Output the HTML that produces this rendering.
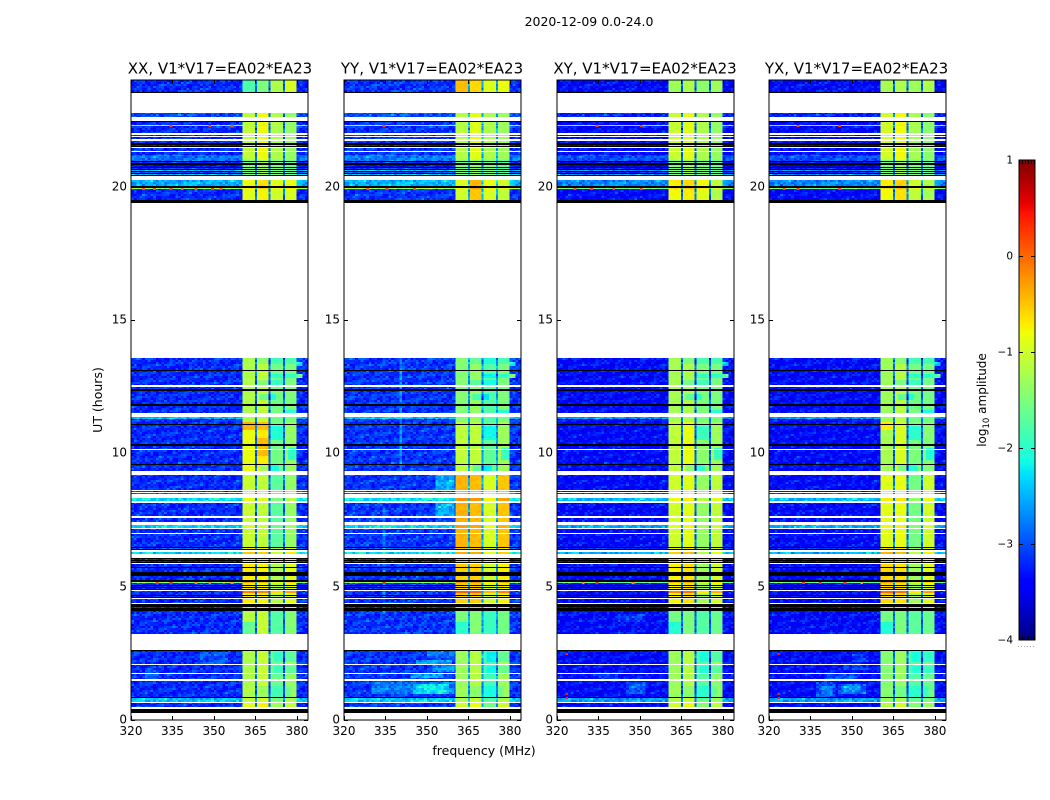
<!DOCTYPE html>
<html>
<head>
<meta charset="utf-8">
<title>2020-12-09 0.0-24.0</title>
<style>
html,body{margin:0;padding:0;background:#fff;}
svg{display:block;font-family:"DejaVu Sans","Liberation Sans",sans-serif;fill:#000;}
</style>
</head>
<body>
<svg id="figure" xmlns="http://www.w3.org/2000/svg" width="1050" height="800" viewBox="0 0 1050 800">
  <text x="589" y="26" text-anchor="middle" font-size="12.5">2020-12-09 0.0-24.0</text>
  <text transform="translate(102,400) rotate(-90)" text-anchor="middle" font-size="12.5">UT (hours)</text>
  <text x="484" y="755" text-anchor="middle" font-size="12.5">frequency (MHz)</text>
  <text transform="translate(986,400) rotate(-90)" text-anchor="middle" font-size="12">log<tspan font-size="8.5" dy="3">10</tspan><tspan dy="-3"> amplitude</tspan></text>
</svg>
<script>
// ---------- axis labels ----------
const panelNames = ["XX", "YY", "XY", "YX"];
const freqTicks = [320, 335, 350, 365, 380];
const utTicks = [0, 5, 10, 15, 20];
const colorTicks = [1, 0, -1, -2, -3, -4];

// ---------- frequency channels (MHz) ----------
const channelEdges = [320,321,322,323,324,325,326,327,328,329,330,331,332,333,334,335,336,337,338,339,340,341,342,343,344,345,346,347,348,349,350,351,352,353,354,355,356,357,358,359,360,360.4,361.4,362.4,363.4,364.8,365.5,366.5,367.5,368.5,369.8,370.5,371.5,372.5,373.5,375,375.7,376.7,377.7,378.7,379.9,381,382,383,384];
const bandStarts = [360.4, 365.5, 370.5, 375.7];
const bandEnds = [364.8, 369.8, 375, 379.9];

// ---------- time blocks: upper UT limit of each block ----------
const blockEnds = [2.7, 4.15, 6.5, 9.25, 11.2, 13.6, 20.3, 21.0, 22.9, 24];

// log10 amplitude of each band per block
const levelsXX = [[-1.2,-1.05,-1.6,-1.35],[-1.15,-1.05,-1.75,-1.45],[-0.7,-0.75,-1.2,-0.9],[-1.05,-1.1,-1.7,-1.35],[-0.85,-0.7,-1.55,-1.35],[-1.2,-1.1,-1.55,-1.5],[-0.9,-0.75,-1.0,-0.95],[-1.5,-1.3,-1.5,-1.6],[-1.1,-0.8,-1.2,-1.35],[-1.8,-1.5,-1.2,-0.95]];
const levelsYY = [[-1.3,-1.15,-1.85,-1.3],[-1.5,-1.45,-1.9,-1.55],[-0.55,-0.55,-1.0,-0.75],[-0.4,-0.45,-0.95,-0.5],[-1.1,-1.1,-1.65,-1.3],[-1.45,-1.35,-1.75,-1.5],[-1.0,-0.5,-0.95,-1.1],[-1.5,-1.4,-1.5,-1.7],[-1.15,-0.9,-1.2,-1.3],[-0.45,-0.6,-0.9,-0.85]];
const levelsXY = [[-1.3,-1.15,-1.75,-1.4],[-1.55,-1.5,-1.75,-1.6],[-0.75,-0.65,-1.3,-1.0],[-1.0,-0.9,-1.35,-1.1],[-1.1,-0.85,-1.4,-1.3],[-1.25,-1.2,-1.5,-1.5],[-0.8,-0.7,-0.9,-1.2],[-1.5,-1.3,-1.5,-1.6],[-1.05,-0.9,-1.2,-1.35],[-1.3,-1.2,-1.4,-1.3]];
const levelsYX = [[-1.45,-1.3,-1.75,-1.6],[-1.55,-1.5,-1.7,-1.6],[-0.6,-0.65,-1.3,-0.9],[-0.9,-0.85,-1.55,-1.0],[-1.25,-0.95,-1.5,-1.45],[-1.3,-1.15,-1.55,-1.55],[-0.8,-0.65,-1.1,-1.25],[-1.5,-1.3,-1.5,-1.6],[-1.0,-0.8,-1.25,-1.4],[-1.25,-1.2,-1.3,-1.2]];
const backgroundLevels = [-3.2, -3.15, -3.38, -3.38];
const gapLevels = [-2.9, -2.6, -2.95, -2.9];

// ---------- observed time spans: start UT, end UT, D=data K=flagged, background boost, band boost ----------
const timeSpans = [
[0.244,0.4125,"K",0,0],[0.499,0.626,"D",0,0.3],[0.675,0.825,"D",0.75,0.1],[0.825,0.8625,"K",0,0],[0.874,1.474,"D",0,0],[1.549,1.725,"D",0,0],[1.7625,2.051,"D",0,0],[2.089,2.599,"D",0,0],[2.599,2.625,"K",0,0],
[3.225,4.099,"D",0,0],[4.099,4.2,"K",0,0],[4.2,4.2375,"D",-0.1,0],[4.2375,4.3125,"K",0,0],[4.3125,4.331,"D",0,0],[4.331,4.35,"K",0,0],[4.399,4.5375,"D",0,0],[4.575,4.6125,"K",0,0],[4.6125,4.65,"D",-0.1,0],[4.65,4.6875,"K",0,0],[4.6875,4.774,"D",0,0],[4.774,4.8375,"D",0,0.6],
[4.875,4.9125,"K",0,0],[4.9125,4.95,"D",-0.1,0],[4.95,4.9875,"K",0,0],[4.9875,5.025,"D",-0.1,0],[5.025,5.0625,"K",0,0],[5.0625,5.126,"D",0,0],[5.126,5.186,"D",1.7,0.3],[5.186,5.25,"K",0,0],[5.25,5.4,"D",0,0],[5.4,5.539,"K",0,0],[5.539,5.689,"D",0,0],[5.689,5.749,"K",0,0],[5.749,5.85,"D",0,0],
[5.876,5.925,"K",0,0],[5.925,5.9625,"D",-0.1,0],[5.9625,6.0,"K",0,0],[6.0,6.0375,"D",-0.1,0],[6.0375,6.064,"K",0,0],[6.225,6.311,"D",0.85,0.2],[6.364,6.4125,"K",0,0],[6.4125,6.469,"D",0.2,0],[6.469,6.499,"K",0,0],[6.499,6.986,"D",0,0],
[7.024,7.151,"D",0,0],[7.211,7.3125,"D",0.85,0.1],[7.425,7.586,"D",0,0],[7.661,8.149,"D",0,0],[8.224,8.325,"D",0.9,0.2],[8.464,8.501,"D",0.3,0],[8.55,8.576,"D",0,0],[8.614,9.1875,"D",0,0],
[9.349,9.551,"D",0,0],[9.551,9.6,"K",0,0],[9.6,10.125,"D",0,0],[10.1625,10.286,"D",0,0],[10.286,10.339,"K",0,0],[10.339,11.074,"D",0,0],[11.074,11.1,"K",0,0],[11.1,11.269,"D",0,0],[11.269,11.351,"D",0.7,0],
[11.524,11.786,"D",0,0],[11.786,11.839,"K",0,0],[11.839,12.356,"D",0,0],[12.356,12.401,"K",0,0],[12.401,12.506,"D",0,0],[12.5625,13.0875,"D",0,0],[13.0875,13.125,"K",0,0],[13.125,13.564,"D",0,0],
[19.399,19.5,"K",0,0],[19.5,19.901,"D",0,0],[19.901,19.961,"D",1.8,0.2],[19.961,20.025,"K",0,0],[20.025,20.25,"D",0.65,0.1],
[20.4,20.4375,"K",0,0],[20.4375,20.475,"D",0.7,0],[20.475,20.5125,"K",0,0],[20.5125,20.55,"D",0.1,0],[20.55,20.5875,"K",0,0],[20.5875,20.625,"D",0.7,0],[20.625,20.6625,"K",0,0],[20.6625,20.7,"D",0.1,0],[20.7,20.726,"K",0,0],[20.726,20.8125,"D",-0.2,0],[20.8125,20.876,"K",0,0],[20.876,20.914,"D",0,0],[20.914,20.936,"D",0,0],[20.936,20.974,"K",0,0],[20.974,21.1875,"D",0.35,0],
[21.199,21.251,"D",0,0],[21.251,21.3,"D",0,0],[21.3375,21.461,"D",0,0],[21.476,21.525,"K",0,0],[21.525,21.5625,"D",-0.1,0],[21.5625,21.626,"K",0,0],[21.626,21.7125,"D",0,0],[21.7875,21.8625,"D",0,0],[21.889,21.949,"D",0,0],[22.001,22.275,"D",0,0],[22.286,22.3125,"D",1.7,0.1],[22.324,22.425,"D",0,0],[22.425,22.4625,"K",0,0],[22.624,22.751,"D",0.15,0],[23.524,23.55,"K",0,0],[23.55,24,"D",0,0]
];

// ---------- local structure: panel (-1 = all), UT from, UT to, MHz from, MHz to, change in log amplitude ----------
const patches = [
[1,2.1,2.25,346,359,0.5],[1,1.8,2.06,352,360,0.45],[1,1.575,1.725,344,356,0.55],[1,0.94,1.425,330,360,0.35],[1,0.98,1.38,345,358,0.4],[1,1.05,1.3,349,356,0.25],[1,2.3,2.6,350,360,0.3],
[3,0.86,1.4,337,344,0.35],[3,0.98,1.3,339,343,0.25],[3,0.95,1.35,345,355,0.45],[3,1.05,1.25,347,353,0.3],[3,1.9,2.05,347,356,0.3],[3,1.55,1.72,340,352,0.35],[3,2.2,2.5,350,356,0.25],
[2,0.95,1.4,345,352,0.4],[2,1.55,1.72,335,342,0.3],[2,3.7,4.0,342,352,0.25],
[0,1.55,1.9,325,330,0.25],[0,2.1,2.55,345,355,0.2],
[1,8.6,9.19,353,360,0.6],[1,7.66,8.14,353,360,0.6],[1,9.3,13.6,340,341,0.45],[1,4,8,334,335,0.35],
[-1,12.79,13.01,380,382,1.5],[-1,13.31,13.39,380,382,1.0],[-1,12.79,13.01,370.5,380,-0.45],[-1,13.35,13.6,365.5,380,-0.3],
[-1,12.0,12.2,367,372,-0.5],[-1,12.55,12.75,365.5,375,-0.35],[-1,11.4,11.6,375.7,380,-0.5],[-1,10.5,11.0,370.5,375,-0.5],[-1,9.75,10.2,377,380,-0.6],[-1,9.35,9.55,367,373,-0.55],
[-1,3.25,3.65,360.4,364.8,-0.5],[-1,2.15,2.55,372,380,-0.35],[-1,1.75,2.0,372,380,-0.3],[-1,0.85,1.25,365.5,378,-0.25],
[0,10.9,11.2,360.4,364.8,0.45],[0,10.9,11.2,365.5,369.8,0.25],[3,10.9,11.2,360.4,364.8,0.55],[0,9.9,10.6,365.5,369.8,0.25]
];

// ---------- isolated hot channels: panel, UT, MHz, log amplitude ----------
const spikes = [
[0,19.93,324,0.1],[0,19.93,328,0.1],[0,19.93,334,0.2],[0,19.93,338,0],[0,19.93,343,0.1],[0,19.93,349,0.2],[0,19.93,352,0.1],
[0,5.16,329,0.2],[0,5.16,334,0.3],[0,5.16,343,-0.2],[0,5.16,348,-0.2],[0,5.16,356,-0.3],[0,22.3,334,0.2],[0,22.3,348,0.2],[0,22.3,356,0.1],
[1,19.93,328,0.1],[1,19.93,335,0.2],[1,19.93,345,0.1],[1,5.16,334,0.3],[1,22.3,334,0.2],
[2,19.93,326,0.1],[2,19.93,332,0.2],[2,19.93,340,0.1],[2,19.93,350,0.2],[2,5.16,329,-0.2],[2,5.16,334,0.3],[2,5.16,347,-0.2],[2,22.3,334,0.2],[2,22.3,350,0.2],[2,1.0,323,0.4],[2,0.85,323,0.4],[2,2.5,323,0.4],
[3,19.93,325,0.1],[3,19.93,330,0.2],[3,19.93,345,0.2],[3,5.16,332,0.2],[3,5.16,338,0.3],[3,5.16,347,0.3],[3,5.16,353,-0.4],[3,22.3,330,0.2],[3,22.3,345,0.2],[3,1.0,323,0.4],[3,0.85,323,0.4],[3,2.5,323,0.4]
];

// ---------- observed pixel-to-pixel scatter ----------
const speckleA = [0.05,-0.12,0.2,-0.04,0.16,-0.18,0.02,0.27,-0.09,-0.16,0.11,0.03,-0.2,0.22,-0.07,0.09,-0.14,0.31,-0.02,-0.11,0.14,-0.19,0.07,0.18,-0.05,-0.15,0.25,0.0,-0.08,0.12,-0.17];
const speckleB = [-0.1,0.18,0.04,-0.21,0.09,0.24,-0.06,-0.15,0.13,0.01,-0.19,0.29,-0.03,0.07,-0.13,0.16,-0.08,0.02,0.21,-0.17,0.06,-0.11,0.34,-0.04,0.1,-0.16,0.0,0.15,-0.09];

// ---------- jet colour map anchors ----------
const jetRed = [[0,0],[0.35,0],[0.66,1],[0.89,1],[1,0.5]];
const jetGreen = [[0,0],[0.125,0],[0.375,1],[0.64,1],[0.91,0],[1,0]];
const jetBlue = [[0,0.5],[0.11,1],[0.34,1],[0.65,0],[1,0]];

// ---------- layout ----------
const SVGNS = "http://www.w3.org/2000/svg";
const figure = document.getElementById("figure");
const panelLefts = [131, 344, 557, 769];
const panelTitleCenters = [220, 432, 645, 856.5];
const panelWidth = 177, plotTop = 80, plotBottom = 720;
const levelTables = [levelsXX, levelsYY, levelsXY, levelsYX];
const cbLeft = 1019, cbRight = 1035, cbTop = 160, cbBottom = 640;

function xScale(p, mhz) { return panelLefts[p] + (mhz - 320) * panelWidth / 64; }
function yScale(ut) { return Math.round(plotBottom - ut * (plotBottom - plotTop) / 24); }
function cbScale(v) { return cbBottom - (v + 4) * (cbBottom - cbTop) / 5; }

function interp(table, t) {
  for (let i = 1; i < table.length; i++) {
    if (t <= table[i][0]) {
      const a = table[i - 1], b = table[i];
      return a[1] + (b[1] - a[1]) * (t - a[0]) / (b[0] - a[0]);
    }
  }
  return table[table.length - 1][1];
}
function jet(v) {
  const t = Math.max(0, Math.min(1, (v + 4) / 5));
  const c = [jetRed, jetGreen, jetBlue].map(function (tb) { return Math.round(255 * interp(tb, t)); });
  return "rgb(" + c[0] + "," + c[1] + "," + c[2] + ")";
}
function make(tag, parent, attrs) {
  const el = document.createElementNS(SVGNS, tag);
  for (const k in attrs) el.setAttribute(k, attrs[k]);
  parent.appendChild(el);
  return el;
}
function blockOf(ut) {
  for (let i = 0; i < blockEnds.length; i++) if (ut <= blockEnds[i]) return i;
  return blockEnds.length - 1;
}
function cellLevel(p, ut, mhz, span, col, row) {
  const block = blockOf(ut);
  let level, isBand = false;
  let gap = mhz > bandStarts[0] && mhz < bandEnds[3];
  for (let b = 0; b < 4; b++) {
    if (mhz >= bandStarts[b] && mhz <= bandEnds[b]) {
      level = levelTables[p][block][b] + span[4];
      isBand = true;
      gap = false;
    }
  }
  if (gap) level = gapLevels[p] + span[3] * 0.3;
  else if (!isBand) level = backgroundLevels[p] + span[3];
  for (const q of patches) {
    if ((q[0] === -1 || q[0] === p) && ut >= q[1] && ut <= q[2] && mhz >= q[3] && mhz <= q[4]) level += q[5];
  }
  const grain = speckleA[(col * 3 + row * 7) % speckleA.length] + speckleB[(col * 5 + row * 2) % speckleB.length];
  return level + grain * (isBand ? 0.12 : 0.8);
}

const utStep = 0.075;
panelNames.forEach(function (name, p) {
  const panel = make("g", figure, {});
  
  

  const image = make("g", panel, { "shape-rendering": "crispEdges" });
  
  

  timeSpans.forEach(function (span) {
    if (span[2] === "K") {
      const y1 = yScale(span[1]);
      const flagged = make("rect", image, { x: xScale(p, 320), y: y1, width: panelWidth, height: Math.max(1, yScale(span[0]) - y1), fill: "#000" });
      
      
      return;
    }
    const firstRow = Math.floor(span[0] / utStep);
    const lastRow = Math.ceil(span[1] / utStep);
    for (let r = firstRow; r < lastRow; r++) {
      const lo = Math.max(span[0], r * utStep);
      const hi = Math.min(span[1], (r + 1) * utStep);
      if (hi <= lo) continue;
      const yTop = yScale(hi), yBot = yScale(lo);
      if (yBot <= yTop) continue;
      const ut = (lo + hi) / 2;
      for (let c = 0; c < channelEdges.length - 1; c++) {
        const f0 = channelEdges[c], f1 = channelEdges[c + 1];
        const x0 = xScale(p, f0);
        const cell = make("rect", image, { x: x0, y: yTop, width: xScale(p, f1) - x0, height: yBot - yTop, fill: jet(cellLevel(p, ut, (f0 + f1) / 2, span, c, r)) });
        
        
      }
    }
  });

  spikes.filter(function (s) { return s[0] === p; }).forEach(function (s) {
    const y = yScale(s[1] + 0.03);
    const spot = make("rect", image, { x: xScale(p, s[2]), y: y, width: xScale(p, s[2] + 1) - xScale(p, s[2]), height: 2, fill: jet(s[3]) });
    
    
  });

  const left = panelLefts[p], right = left + panelWidth;
  const axes = make("g", panel, { stroke: "#000", "stroke-width": 1, fill: "none" });
  
  
  const frame = make("rect", axes, { x: left, y: plotTop, width: panelWidth, height: plotBottom - plotTop });
  
  

  freqTicks.forEach(function (f) {
    const x = Math.round(xScale(p, f)) + 0.5;
    const t1 = make("line", axes, { x1: x, x2: x, y1: plotBottom, y2: plotBottom - 4 });
    
    
    const t2 = make("line", axes, { x1: x, x2: x, y1: plotTop, y2: plotTop + 4 });
    
    
    const lab = make("text", panel, { x: xScale(p, f), y: 735, "text-anchor": "middle", "font-size": 12 });
    lab.textContent = String(f);
    
    
  });
  utTicks.forEach(function (u) {
    const y = yScale(u) + 0.5;
    const t1 = make("line", axes, { x1: left, x2: left + 4, y1: y, y2: y });
    
    
    const t2 = make("line", axes, { x1: right, x2: right - 4, y1: y, y2: y });
    
    
    const lab = make("text", panel, { x: left - 4, y: yScale(u) + 3.5, "text-anchor": "end", "font-size": 12 });
    lab.textContent = String(u);
    
    
  });

  const title = make("text", panel, { x: panelTitleCenters[p], y: 73.5, "text-anchor": "middle", "font-size": 15 });
  title.textContent = name + ", V1*V17=EA02*EA23";
  
  
});

// ---------- colour bar ----------
const bar = make("g", figure, {});


const ramp = make("g", bar, { "shape-rendering": "crispEdges" });


for (let i = 0; i < 256; i++) {
  const v0 = -4 + 5 * i / 256, v1 = -4 + 5 * (i + 1) / 256;
  const step = make("rect", ramp, { x: cbLeft, y: cbScale(v1), width: cbRight - cbLeft, height: cbScale(v0) - cbScale(v1) + 0.5, fill: jet((v0 + v1) / 2) });
  
  
}
const barFrame = make("rect", bar, { x: cbLeft, y: cbTop, width: cbRight - cbLeft, height: cbBottom - cbTop, fill: "none", stroke: "#000", "stroke-width": 1 });


colorTicks.forEach(function (v) {
  const y = Math.round(cbScale(v)) + 0.5;
  const isEnd = v === 1 || v === -4;
  if (!isEnd) {
    const a = make("line", bar, { x1: cbLeft, x2: cbLeft + 4, y1: y, y2: y, stroke: "#000" });
    
    
    const b = make("line", bar, { x1: cbRight, x2: cbRight - 4, y1: y, y2: y, stroke: "#000" });
    
    
  }
  const lab = make("text", bar, { x: 1013, y: Math.round(cbScale(v)) + 3.5, "text-anchor": "end", "font-size": 10.5 });
  lab.textContent = v < 0 ? "\u2212" + Math.abs(v) : String(v);
  
  
});
for (let k = 0; k < 6; k++) {
  const x = cbLeft + 0.5 + k * 3;
  const top = make("line", bar, { x1: x, x2: x, y1: cbTop, y2: cbTop + 4, stroke: "#000" });
  
  
  const bottom = make("line", bar, { x1: x, x2: x, y1: cbBottom, y2: cbBottom - 4, stroke: "#000" });
  
  
  const dot = make("rect", bar, { x: cbLeft - 1 + k * 3, y: 646, width: 1, height: 1, fill: "#aaa" });
  
  
}
</script>
</body>
</html>
